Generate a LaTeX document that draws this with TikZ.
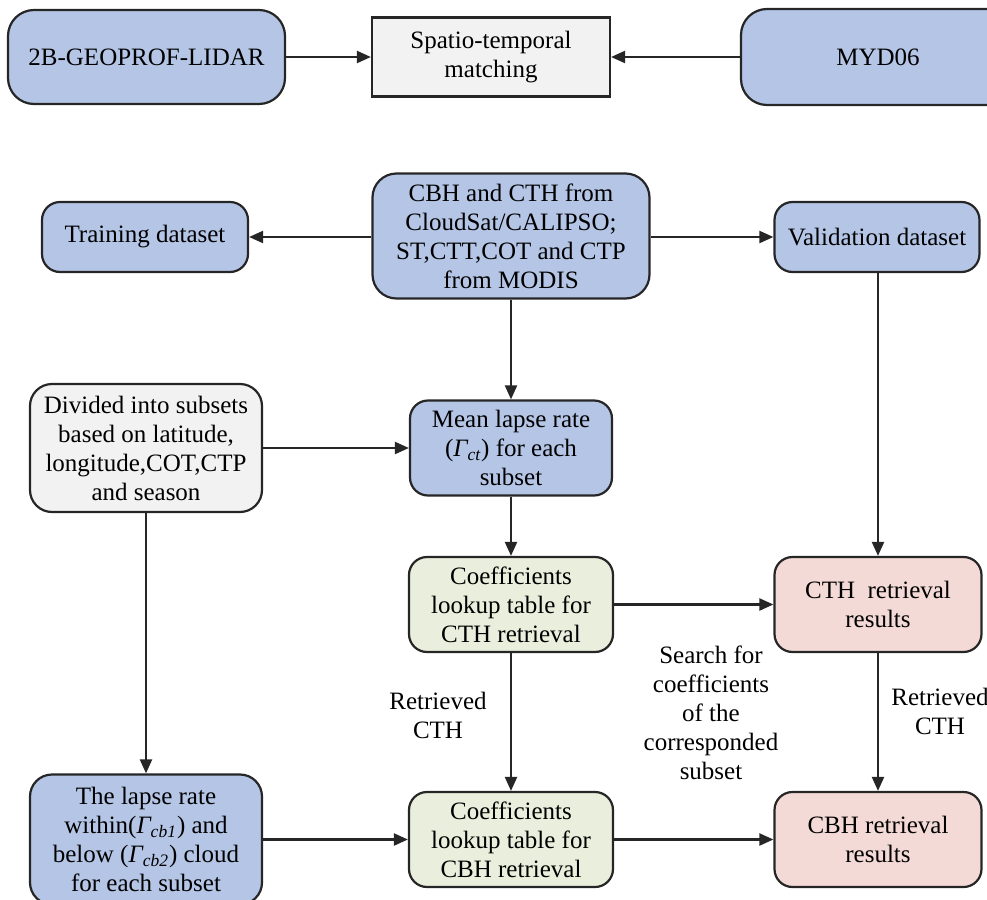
\documentclass[tikz,border=0pt]{standalone}
\usepackage{fontspec}
\setmainfont{Liberation Serif}
\usepackage{tikz}
\usetikzlibrary{arrows.meta}
\usetikzlibrary{positioning}

\definecolor{boxblue}{HTML}{B4C5E6}
\definecolor{boxgray}{HTML}{F2F2F2}
\definecolor{boxgreen}{HTML}{E9EFDC}
\definecolor{boxpink}{HTML}{F4DAD6}

\begin{document}
\begin{tikzpicture}[x=0.5pt,y=-0.5pt,
    every node/.style={align=center,inner sep=0pt,font=\fontsize{12.5}{14.5}\selectfont},
    box/.style={draw=black!85,line width=1.1pt,rounded corners=9pt},
    bluebox/.style={box,fill=boxblue},
    graybox/.style={box,fill=boxgray},
    greenbox/.style={box,fill=boxgreen},
    pinkbox/.style={box,fill=boxpink},
    arr/.style={line width=1.1pt,draw=black!85,arrows = -{Triangle[length=7pt,width=6pt]}}]

            % \draw [help lines] (0,0) grid (987,900);
            \clip (0,0) rectangle (987,900);

            \path   (146.5,57) node (lidar) [bluebox,rounded corners=13pt,minimum width=138.5pt,minimum height=47pt] {2B-GEOPROF-LIDAR}
                    (491,57) node (match) [box,rounded corners=0pt,fill=boxgray,minimum width=119pt,minimum height=39.5pt] {Spatio-temporal\\matching}
                    (878,57) node (myd) [bluebox,rounded corners=13pt,minimum width=137pt,minimum height=48pt] {MYD06}

                    (511,236) node (src) [bluebox,rounded corners=12pt,minimum width=138.5pt,minimum height=62.5pt] {CBH and CTH from\\CloudSat/CALIPSO;\\ST,CTT,COT and CTP\\from MODIS}
                    (145,237) node (train) [bluebox,minimum width=103pt,minimum height=35pt] {Training dataset}
                    (877,237) node (valid) [bluebox,minimum width=102.5pt,minimum height=35pt] {Validation dataset}

                    (146,448) node (divide) [graybox,rounded corners=11pt,minimum width=116pt,minimum height=64pt] {Divided into subsets\\based on latitude,\\longitude,COT,CTP\\and season}
                    (511,448) node (mean) [bluebox,minimum width=101pt,minimum height=47.5pt] {Mean lapse rate\\(\textit{Γ\textsubscript{ct}}) for each\\subset}

                    (511,604.5) node (ccth) [greenbox,minimum width=102pt,minimum height=47.5pt] {Coefficients\\lookup table for\\CTH retrieval}
                    (878,604.5) node (rcth) [pinkbox,minimum width=103.5pt,minimum height=47.5pt] {CTH\ \ retrieval\\results}

                    (146,839.5) node (lapse) [bluebox,rounded corners=11pt,minimum width=116pt,minimum height=65pt] {The lapse rate\\within(\textit{Γ\textsubscript{cb1}}) and\\below (\textit{Γ\textsubscript{cb2}}) cloud\\for each subset}
                    (511,839.5) node (ccbh) [greenbox,minimum width=102pt,minimum height=47.5pt] {Coefficients\\lookup table for\\CBH retrieval}
                    (878,839.5) node (rcbh) [pinkbox,minimum width=103.5pt,minimum height=47.5pt] {CBH retrieval\\results}

                    (438,715) node (lab1) {Retrieved\\CTH}
                    (940,711) node (lab2) {Retrieved\\CTH}
                    (711,713) node (search) {Search for\\coefficients\\of the\\corresponded\\subset};

            \draw[arr] (lidar) -- (match);
            \draw[arr] (myd) -- (match);

            \draw[arr] (src.west |- train) -- (train);
            \draw[arr] (src.east |- valid) -- (valid);
            \draw[arr] (src) -- (mean);

            \draw[arr] (divide) -- (mean);
            \draw[arr] (divide) -- (lapse);
            \draw[arr] (mean) -- (ccth);
            \draw[arr] (valid.south -| rcth) -- (rcth);

            \draw[arr] (ccth) -- (rcth);
            \draw[arr] (ccth) -- (ccbh);
            \draw[arr] (rcth) -- (rcbh);

            \draw[arr] (lapse) -- (ccbh);
            \draw[arr] (ccbh) -- (rcbh);
\end{tikzpicture}
\end{document}
